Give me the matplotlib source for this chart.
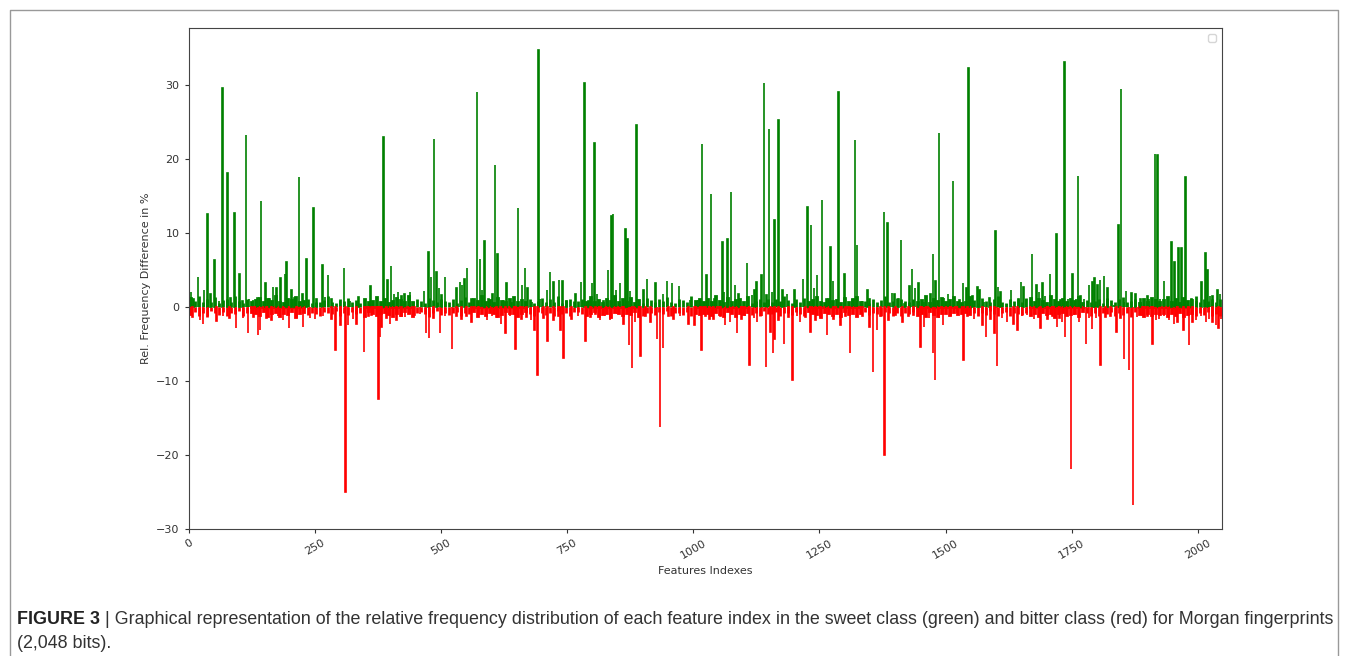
import matplotlib
matplotlib.use("Agg")
import matplotlib.pyplot as plt
from matplotlib.lines import Line2D

# sweet class (green): visible bars, feature index -> rel. frequency difference (%)
green_idx = [0, 5, 10, 18, 30, 37, 43, 51, 60, 67, 77, 83, 91, 101, 107, 114, 120, 127, 136, 143,
             152, 160, 167, 174, 182, 191, 194, 204, 210, 219, 226, 233, 247, 253, 265, 270, 276, 283,
             300, 308, 320, 337, 360, 386, 394, 401, 407, 415, 422, 428, 439, 447, 466, 475, 480, 486,
             491, 496, 501, 508, 531, 538, 542, 547, 552, 561, 571, 577, 581, 586, 594, 602, 607, 612,
             624, 630, 640, 653, 661, 667, 672, 680, 693, 696, 710, 716, 723, 734, 741, 749, 767, 778,
             784, 792, 799, 804, 809, 822, 831, 838, 841, 847, 855, 866, 870, 875, 888, 901, 908, 925,
             940, 948, 958, 972, 994, 1009, 1017, 1026, 1035, 1042, 1058, 1061, 1068, 1075, 1083, 1090,
             1107, 1116, 1121, 1125, 1135, 1140, 1145, 1150, 1156, 1161, 1169, 1177, 1186, 1201, 1218,
             1226, 1233, 1239, 1245, 1255, 1264, 1272, 1277, 1288, 1300, 1315, 1321, 1325, 1335, 1345,
             1349, 1378, 1385, 1394, 1399, 1407, 1412, 1419, 1429, 1434, 1440, 1446, 1457, 1470, 1475,
             1480, 1487, 1497, 1505, 1515, 1528, 1535, 1542, 1546, 1553, 1563, 1567, 1576, 1587, 1599,
             1604, 1609, 1622, 1630, 1645, 1650, 1655, 1660, 1671, 1680, 1685, 1692, 1697, 1707, 1720,
             1728, 1736, 1743, 1752, 1759, 1763, 1768, 1774, 1784, 1791, 1795, 1801, 1806, 1814, 1821,
             1834, 1843, 1848, 1854, 1858, 1869, 1877, 1886, 1900, 1903, 1915, 1920, 1925, 1933, 1941,
             1948, 1954, 1962, 1968, 1976, 1988, 1997, 2007, 2015, 2019, 2024, 2029, 2039, 2044]
green_val = [12.7, 2.0, 1.0, 4.0, 2.3, 12.5, 1.7, 6.3, 0.8, 29.6, 18.1, 1.2, 12.7, 4.4, 0.8, 23.2, 1.0, 0.9, 1.2, 14.3,
             3.2, 1.0, 2.7, 2.5, 3.9, 4.5, 6.0, 2.3, 1.2, 17.5, 1.7, 6.4, 13.4, 1.0, 5.6, 1.3, 4.3, 1.0,
             0.8, 5.2, 0.8, 1.3, 2.8, 23.0, 3.6, 5.5, 1.8, 2.0, 1.4, 1.8, 2.0, 0.6, 2.2, 7.4, 4.0, 22.7,
             4.7, 2.5, 1.6, 4.0, 2.5, 3.4, 2.9, 3.8, 5.3, 1.1, 29.0, 6.4, 2.3, 8.9, 1.1, 1.8, 19.2, 7.2,
             0.8, 3.2, 0.5, 13.3, 2.9, 5.2, 2.5, 0.7, 34.7, 1.0, 2.3, 4.7, 3.4, 3.6, 3.5, 0.8, 1.8, 3.4,
             30.2, 0.8, 3.2, 22.2, 1.8, 0.8, 5.0, 12.3, 12.5, 2.3, 3.2, 10.5, 9.2, 2.2, 24.6, 2.3, 3.7, 3.2,
             1.7, 3.5, 3.2, 2.8, 0.9, 0.9, 22.0, 4.3, 15.3, 1.1, 8.8, 2.0, 9.2, 15.5, 3.0, 1.8,
             5.9, 1.6, 2.3, 3.4, 4.3, 30.2, 1.6, 24.0, 2.0, 11.8, 25.3, 2.3, 1.8, 2.3, 3.7,
             13.5, 11.1, 2.5, 4.3, 14.5, 1.1, 8.1, 3.5, 29.0, 4.5, 1.1, 22.5, 8.3, 0.6, 2.3,
             1.0, 12.8, 11.3, 1.9, 1.8, 1.0, 9.0, 0.4, 2.8, 5.1, 2.5, 3.2, 0.7, 1.7, 7.2,
             3.5, 23.5, 1.2, 1.7, 17.0, 0.9, 3.2, 2.5, 32.3, 1.4, 2.7, 2.3, 0.6, 1.2, 10.2,
             2.7, 2.0, 0.4, 2.3, 1.0, 3.4, 2.7, 1.0, 7.1, 3.0, 2.0, 3.2, 1.4, 4.4, 9.9,
             0.9, 33.1, 1.1, 4.4, 1.0, 17.7, 1.4, 1.1, 3.0, 3.4, 3.9, 2.9, 3.6, 4.2, 2.5,
             0.3, 11.1, 29.5, 0.7, 2.2, 1.9, 1.8, 1.0, 1.4, 1.0, 20.6, 20.5, 1.1, 3.5, 0.9,
             8.7, 6.0, 7.9, 8.0, 17.5, 1.0, 0.7, 3.3, 7.3, 5.0, 1.4, 1.5, 2.3, 1.8]

# bitter class (red): visible bars
red_idx = [0, 8, 22, 28, 38, 55, 68, 81, 94, 108, 118, 128, 137, 141, 154, 164, 177, 187, 199, 214,
           227, 240, 250, 266, 283, 291, 301, 311, 316, 326, 333, 347, 356, 362, 376, 379, 382, 392,
           399, 412, 422, 429, 439, 448, 458, 470, 476, 485, 498, 508, 522, 531, 541, 551, 561, 574,
           591, 601, 610, 619, 628, 637, 648, 660, 670, 678, 685, 691, 703, 711, 723, 733, 737, 743,
           759, 772, 786, 796, 806, 815, 825, 835, 849, 862, 873, 879, 885, 895, 905, 915, 928, 934,
           940, 951, 961, 974, 991, 1002, 1016, 1024, 1032, 1040, 1054, 1063, 1073, 1087, 1096, 1103,
           1112, 1120, 1126, 1136, 1144, 1153, 1158, 1161, 1169, 1180, 1189, 1197, 1206, 1212, 1222,
           1232, 1242, 1252, 1265, 1278, 1292, 1302, 1311, 1325, 1335, 1349, 1356, 1364, 1371, 1379,
           1387, 1401, 1415, 1427, 1437, 1450, 1457, 1467, 1475, 1479, 1487, 1495, 1510, 1523, 1536,
           1544, 1556, 1573, 1580, 1589, 1597, 1602, 1612, 1622, 1635, 1643, 1652, 1662, 1675, 1688,
           1702, 1712, 1721, 1726, 1731, 1737, 1749, 1755, 1765, 1778, 1784, 1790, 1798, 1807, 1817,
           1827, 1839, 1847, 1854, 1864, 1872, 1880, 1890, 1900, 1910, 1917, 1923, 1933, 1943, 1953,
           1960, 1972, 1983, 1990, 1996, 2006, 2016, 2022, 2029, 2036, 2041, 2046]
red_val = [-1.3, -1.35, -1.8, -2.3, -1.2, -1.9, -1.2, -1.5, -2.9, -1.5, -3.6, -1.4, -3.8, -3.2, -1.5, -1.8, -1.3, -1.8, -2.9, -1.4,
           -2.7, -1.5, -1.6, -1.3, -1.6, -5.9, -2.5, -25.1, -2.5, -1.6, -2.3, -6.1, -1.3, -1.1, -12.4, -4.1, -2.7, -1.5,
           -2.3, -1.8, -1.2, -1.4, -1.0, -1.1, -1.0, -3.6, -4.2, -1.5, -3.6, -1.3, -5.7, -1.2, -1.6, -1.2, -2.0, -1.0,
           -1.8, -1.2, -1.4, -2.3, -3.6, -1.3, -5.7, -1.6, -1.4, -1.8, -3.2, -9.2, -1.5, -4.6, -1.8, -1.3, -3.2, -6.9,
           -1.6, -1.3, -4.6, -1.4, -1.0, -1.8, -1.2, -1.8, -1.0, -2.3, -5.1, -8.3, -2.0, -6.6, -1.3, -2.0, -4.3, -16.2,
           -5.6, -1.3, -1.6, -1.2, -2.3, -2.5, -5.9, -1.3, -1.6, -1.6, -1.2, -2.5, -2.0, -3.6, -1.6, -1.2,
           -7.9, -1.5, -2.0, -1.2, -8.1, -3.4, -6.3, -4.3, -1.8, -5.0, -1.4, -9.9, -1.2, -2.0, -1.4,
           -3.4, -1.8, -1.3, -3.8, -1.6, -2.5, -1.3, -6.3, -0.9, -1.2, -2.7, -8.8, -3.2, -1.2, -20.1,
           -1.8, -1.1, -2.0, -1.3, -1.1, -5.4, -2.7, -1.5, -6.3, -9.9, -1.5, -2.5, -1.1, -0.9, -7.2,
           -1.3, -1.6, -2.5, -4.1, -1.6, -3.6, -8.0, -1.5, -2.0, -2.3, -3.2, -1.3, -1.1, -1.6, -2.9,
           -1.6, -1.3, -2.7, -1.5, -2.0, -4.1, -21.9, -1.1, -2.0, -5.0, -1.5, -3.0, -1.5, -7.9, -1.4,
           -1.2, -3.4, -1.5, -7.1, -8.6, -26.8, -1.4, -1.1, -1.3, -5.0, -1.8, -1.6, -1.2, -1.8, -2.3,
           -2.0, -3.2, -5.2, -2.0, -1.8, -1.3, -2.0, -1.6, -2.0, -2.5, -2.8, -1.6]

# dense low-level bars along the baseline (estimated), one every 8 indices from index 4
floor_idx = list(range(4, 2048, 8))
green_floor = [1.2, 0.8, 1.5, 0.6, 1.0, 0.7, 1.3, 0.5, 0.9, 1.1, 0.6, 1.4, 0.8, 0.5, 1.0, 0.7,
               0.9, 1.2, 0.6, 1.0, 0.8, 1.5, 0.7, 0.5, 1.1, 0.9, 1.3, 0.6, 0.8, 1.0, 0.5, 0.7,
               0.6, 0.9, 1.4, 0.7, 0.5, 1.0, 0.8, 1.2, 0.6, 0.9, 0.5, 1.1, 0.7, 0.8, 1.3, 0.6,
               1.0, 0.5, 0.8, 1.2, 0.9, 0.6, 1.4, 0.7, 1.0, 0.8, 0.5, 1.2, 0.9, 0.6, 1.1, 0.8,
               0.7, 1.1, 0.5, 0.9, 1.3, 0.6, 1.0, 0.8, 1.5, 0.7, 0.9, 0.5, 1.2, 0.8, 0.6, 1.0,
               1.3, 0.6, 0.9, 0.7, 1.1, 0.5, 0.8, 1.2, 0.7, 1.0, 0.6, 1.4, 0.5, 0.9, 1.1, 0.8,
               0.8, 1.0, 0.6, 1.3, 0.7, 0.9, 0.5, 1.1, 0.8, 1.4, 0.6, 1.0, 0.7, 1.2, 0.5, 0.9,
               0.5, 1.2, 0.9, 0.6, 1.0, 0.8, 1.3, 0.7, 0.5, 1.1, 0.9, 0.6, 1.4, 0.8, 1.0, 0.7,
               1.1, 0.7, 1.4, 0.8, 0.5, 1.2, 0.6, 0.9, 1.0, 0.7, 1.3, 0.5, 0.8, 1.1, 0.6, 1.0,
               0.6, 1.0, 0.8, 1.5, 0.9, 0.5, 1.1, 0.7, 1.2, 0.6, 0.9, 1.3, 0.7, 0.5, 1.0, 0.8,
               0.9, 0.5, 1.2, 0.7, 1.0, 1.3, 0.6, 0.8, 0.5, 1.1, 0.7, 0.9, 1.4, 0.6, 0.8, 1.2,
               1.0, 0.8, 0.6, 1.1, 0.7, 0.9, 1.4, 0.5, 1.0, 0.8, 1.2, 0.6, 0.9, 1.3, 0.7, 0.5,
               0.7, 1.3, 0.9, 0.5, 1.2, 0.8, 0.6, 1.0, 1.4, 0.7, 0.5, 1.1, 0.8, 1.0, 0.6, 1.2,
               1.2, 0.6, 1.0, 0.8, 0.5, 1.4, 0.9, 0.7, 1.1, 0.6, 1.0, 0.8, 1.3, 0.5, 0.9, 0.7,
               0.8, 1.1, 0.5, 1.2, 0.9, 0.7, 1.0, 1.3, 0.6, 0.8, 1.1, 0.5, 1.0, 0.7, 1.2, 0.9,
               0.6, 0.9, 1.3, 0.7, 1.0, 0.5, 1.2, 0.8, 0.9, 1.4, 0.6, 1.0, 0.8, 1.1, 0.7, 1.0]
red_floor = [-1.0, -0.7, -1.2, -0.8, -1.4, -0.6, -0.9, -1.1, -0.7, -1.3, -0.8, -1.0, -0.6, -1.2, -0.9, -0.7,
             -0.8, -1.1, -0.6, -1.3, -0.9, -0.7, -1.2, -0.8, -1.0, -0.6, -1.4, -0.9, -0.7, -1.1, -0.8, -1.0,
             -1.2, -0.7, -0.9, -1.0, -0.6, -1.3, -0.8, -1.1, -0.7, -1.0, -0.9, -1.2, -0.6, -0.8, -1.1, -0.9,
             -0.7, -1.0, -1.3, -0.8, -1.1, -0.6, -0.9, -1.2, -0.8, -0.7, -1.0, -1.4, -0.9, -0.6, -1.1, -0.8,
             -1.1, -0.8, -0.7, -1.2, -0.9, -1.0, -0.6, -1.3, -0.8, -1.1, -0.7, -0.9, -1.2, -1.0, -0.6, -0.9,
             -0.9, -1.2, -0.8, -0.6, -1.0, -1.3, -0.7, -0.9, -1.1, -0.8, -1.2, -0.6, -1.0, -0.8, -1.3, -0.7,
             -0.7, -1.0, -1.1, -0.9, -0.6, -1.2, -1.0, -0.8, -1.4, -0.7, -0.9, -1.1, -0.8, -1.0, -0.6, -1.2,
             -1.3, -0.8, -0.9, -1.1, -0.7, -1.0, -0.6, -1.2, -0.9, -0.8, -1.1, -0.7, -1.3, -0.9, -1.0, -0.8,
             -0.8, -1.1, -0.7, -1.0, -1.2, -0.6, -0.9, -1.3, -0.8, -1.0, -0.7, -1.1, -0.9, -1.2, -0.6, -1.0,
             -1.0, -0.7, -1.3, -0.8, -0.9, -1.1, -0.7, -1.0, -1.2, -0.6, -0.8, -1.0, -1.4, -0.7, -0.9, -1.1,
             -0.9, -1.2, -0.6, -1.0, -0.8, -1.3, -0.9, -0.7, -1.1, -0.8, -1.0, -1.2, -0.7, -0.9, -1.3, -0.8,
             -1.2, -0.8, -1.0, -0.7, -1.1, -0.9, -1.3, -0.6, -1.0, -1.2, -0.8, -0.9, -1.1, -0.7, -1.0, -0.9,
             -0.7, -1.0, -0.9, -1.2, -0.8, -1.1, -0.6, -1.0, -1.3, -0.9, -0.7, -1.2, -0.8, -1.0, -1.1, -0.8,
             -1.1, -0.9, -1.2, -0.7, -1.0, -0.8, -1.4, -0.9, -0.7, -1.1, -1.0, -0.8, -1.2, -0.6, -0.9, -1.3,
             -0.8, -1.3, -0.9, -1.0, -0.7, -1.2, -0.8, -1.1, -0.9, -1.4, -0.7, -1.0, -1.2, -0.8, -1.1, -0.9,
             -1.0, -0.8, -1.2, -0.9, -1.1, -0.7, -1.3, -1.0, -0.8, -1.2, -0.9, -1.1, -0.7, -1.3, -1.0, -1.2]

x_ticks = [0, 250, 500, 750, 1000, 1250, 1500, 1750, 2000]
y_ticks = [-30, -20, -10, 0, 10, 20, 30]

W, H = 1348, 656
fig = plt.figure(figsize=(W / 100, H / 100), dpi=100)
ax = fig.add_axes([188.7 / W, 1 - 528.7 / H, (1222 - 188.7) / W, (528.7 - 28) / H])

ax.bar(floor_idx, green_floor, width=1.0, color="green", edgecolor="green", linewidth=2.0)
ax.bar(floor_idx, red_floor, width=1.0, color="red", edgecolor="red", linewidth=2.0)
ax.bar(green_idx, green_val, width=1.0, color="green", edgecolor="green", linewidth=1.2)
ax.bar(red_idx, red_val, width=1.0, color="red", edgecolor="red", linewidth=1.2)

ax.set_xlim(0, 2048)
ax.set_ylim(-30, 37.7)
ax.set_xticks(x_ticks)
ax.set_yticks(y_ticks)
ax.tick_params(labelsize=8, length=3, color="#333333", labelcolor="#333333")
plt.setp(ax.get_xticklabels(), rotation=30)
ax.set_xlabel("Features Indexes", fontsize=8, color="#333333")
ax.set_ylabel("Rel. Frequency Difference in %", fontsize=8, color="#333333")
for s in ax.spines.values():
    s.set_color("#444444")
ax.legend(handles=[], loc="upper right", fontsize=8)

# outer frame of the figure panel (left, top, right edges)
fx = [10 / W, 10 / W, 1338 / W, 1338 / W]
fy = [0.0, 1 - 10 / H, 1 - 10 / H, 0.0]
fig.add_artist(Line2D(fx, fy, color="#999999", linewidth=1.0, transform=fig.transFigure))

# caption, sized so that the first line runs from x=17 to x=1333
cap_font = ["Liberation Sans", "DejaVu Sans"]
cap_text = ("| Graphical representation of the relative frequency distribution of each feature index in the "
            "sweet class (green) and bitter class (red) for Morgan fingerprints")
fs = 12.0
renderer = fig.canvas.get_renderer()
for _ in range(3):
    t1 = fig.text(17 / W, 1 - 620 / H, "FIGURE 3", fontsize=fs, fontweight="bold",
                  family=cap_font, va="center", color="#222222")
    bb = t1.get_window_extent(renderer)
    t2 = fig.text((bb.x1 + 5) / W, 1 - 620 / H, cap_text, fontsize=fs, family=cap_font,
                  va="center", color="#333333")
    right = t2.get_window_extent(renderer).x1
    t1.remove()
    t2.remove()
    fs *= (1333 - 17) / (right - 17)
fig.text(17 / W, 1 - 620 / H, "FIGURE 3", fontsize=fs, fontweight="bold",
         family=cap_font, va="center", color="#222222")
fig.canvas.draw()
bb = fig.texts[-1].get_window_extent(renderer)
fig.text((bb.x1 + 5) / W, 1 - 620 / H, cap_text, fontsize=fs, family=cap_font,
         va="center", color="#333333")
fig.text(17 / W, 1 - 643 / H, "(2,048 bits).", fontsize=fs, family=cap_font, va="center", color="#333333")

plt.savefig("out.png", dpi=100)
